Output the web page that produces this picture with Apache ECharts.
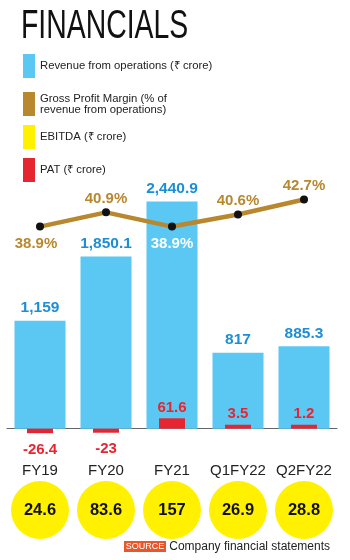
<!DOCTYPE html>
<html>
<head>
<meta charset="utf-8">
<script src="https://cdn.jsdelivr.net/npm/echarts@6/dist/echarts.min.js"></script>
<style>
  html, body { margin: 0; padding: 0; background: #fff; }
  #chart { width: 350px; height: 560px; }
</style>
</head>
<body>
<div id="chart"></div>
<script>
const categories = ['FY19', 'FY20', 'FY21', 'Q1FY22', 'Q2FY22']
const revenue = [1159, 1850.1, 2440.9, 817, 885.3]
const grossMargin = [38.9, 40.9, 38.9, 40.6, 42.7]
const ebitda = [24.6, 83.6, 157, 26.9, 28.8]
const pat = [-26.4, -23, 61.6, 3.5, 1.2]

const names = [
  'Revenue from operations (₹ crore)',
  'Gross Profit Margin (% of\nrevenue from operations)',
  'EBITDA (₹ crore)',
  'PAT (₹ crore)'
]

const colors = {
  blue: '#5BC8F4',
  blueText: '#1B8FD6',
  brown: '#B8872E',
  yellow: '#FFF100',
  red: '#E52630',
  source: '#E8572B'
}
// no narrow font installed, so plain sans everywhere
const sans = '"Liberation Sans", Arial, sans-serif'

const chart = echarts.init(document.getElementById('chart'))

const legendBase = {
  orient: 'vertical',
  left: 23,
  padding: 0,
  icon: 'rect',
  itemWidth: 12,
  itemHeight: 24,
  itemGap: 9,
  selectedMode: false,
  textStyle: { fontSize: 11.3, fontFamily: sans, color: '#222', lineHeight: 11 }
}

const option = {
  animation: false,
  graphic: [
    {
      type: 'text',
      x: 21,
      y: 7,
      scaleX: 0.71,
      style: {
        text: 'FINANCIALS',
        font: '40px ' + sans,
        fill: '#111'
      }
    },
    {
      type: 'rect',
      shape: { x: 124, y: 541, width: 42, height: 11 },
      style: { fill: colors.source }
    },
    {
      type: 'text',
      x: 145,
      y: 546.5,
      style: {
        text: 'SOURCE',
        font: '9px ' + sans,
        fill: '#fff',
        align: 'center',
        verticalAlign: 'middle'
      }
    },
    {
      type: 'text',
      x: 330,
      y: 547,
      style: {
        text: 'Company financial statements',
        font: '12px ' + sans,
        fill: '#222',
        align: 'right',
        verticalAlign: 'middle'
      }
    }
  ],
  legend: [
    Object.assign({}, legendBase, { top: 54, data: [names[0]] }),
    Object.assign({}, legendBase, {
      top: 92,
      data: [{ name: names[1], itemStyle: { color: colors.brown } }, names[2], names[3]]
    })
  ],
  grid: [
    { left: 7, right: 13, top: 196, height: 256 },
    { left: 7, right: 13, top: 480, height: 60 }
  ],
  xAxis: [
    {
      type: 'category',
      data: categories,
      gridIndex: 0,
      axisLine: { lineStyle: { color: '#666', width: 1 } },
      axisTick: { show: false },
      axisLabel: { interval: 0, margin: 11, fontSize: 15, fontFamily: sans, color: '#222' }
    },
    { type: 'category', data: categories, gridIndex: 0, show: false },
    { type: 'category', data: categories, gridIndex: 1, show: false }
  ],
  yAxis: [
    // revenue
    { type: 'value', gridIndex: 0, min: -250, max: 2500, show: false, splitLine: { show: false } },
    // PAT, same zero as revenue
    { type: 'value', gridIndex: 0, min: -137.5, max: 1375, show: false, splitLine: { show: false } },
    // gross margin %
    { type: 'value', gridIndex: 0, min: 7.2, max: 43.2, show: false, splitLine: { show: false } },
    // EBITDA circles row
    { type: 'value', gridIndex: 1, min: -1, max: 1, show: false, splitLine: { show: false } }
  ],
  series: [
    {
      name: names[0],
      type: 'bar',
      xAxisIndex: 0,
      yAxisIndex: 0,
      barWidth: 51,
      itemStyle: { color: colors.blue },
      label: {
        show: true,
        position: 'top',
        distance: 5,
        fontSize: 15.5,
        fontWeight: 'bold',
        fontFamily: sans,
        color: colors.blueText,
        formatter: (p) => p.value.toLocaleString('en-US', { maximumFractionDigits: 1 })
      },
      data: revenue
    },
    {
      name: names[3],
      type: 'bar',
      xAxisIndex: 1,
      yAxisIndex: 1,
      barWidth: 26,
      barMinHeight: 4,
      z: 3,
      itemStyle: { color: colors.red },
      label: {
        show: true,
        distance: 3,
        fontSize: 15,
        fontWeight: 'bold',
        fontFamily: sans,
        color: colors.red,
        formatter: (p) => String(p.value)
      },
      data: pat.map((v) => ({
        value: v,
        label: { position: v < 0 ? 'bottom' : 'top', distance: v < 0 ? 9 : 3 }
      }))
    },
    {
      name: names[1],
      type: 'line',
      xAxisIndex: 1,
      yAxisIndex: 2,
      z: 5,
      color: colors.brown,
      lineStyle: { color: colors.brown, width: 4.5 },
      symbol: 'circle',
      symbolSize: 8,
      itemStyle: { color: '#111' },
      label: {
        show: true,
        fontSize: 15,
        fontWeight: 'bold',
        fontFamily: sans,
        color: colors.brown,
        formatter: (p) => p.value.toFixed(1) + '%'
      },
      data: grossMargin.map((v, i) => {
        // first and third labels sit under the point, the rest above
        if (i === 0) return { value: v, label: { position: 'bottom', distance: 6, offset: [-4, 0] } }
        if (i === 2) return { value: v, label: { position: 'bottom', distance: 6, color: '#fff' } }
        return { value: v, label: { position: 'top', distance: 2 } }
      })
    },
    {
      name: names[2],
      type: 'scatter',
      xAxisIndex: 2,
      yAxisIndex: 3,
      symbolSize: 58,
      itemStyle: { color: colors.yellow, opacity: 1 },
      label: {
        show: true,
        position: 'inside',
        fontSize: 16.5,
        fontWeight: 'bold',
        fontFamily: sans,
        color: '#111',
        formatter: (p) => String(p.value[2])
      },
      data: ebitda.map((v, i) => [categories[i], 0, v])
    }
  ]
}

chart.setOption(option)
</script>
</body>
</html>
